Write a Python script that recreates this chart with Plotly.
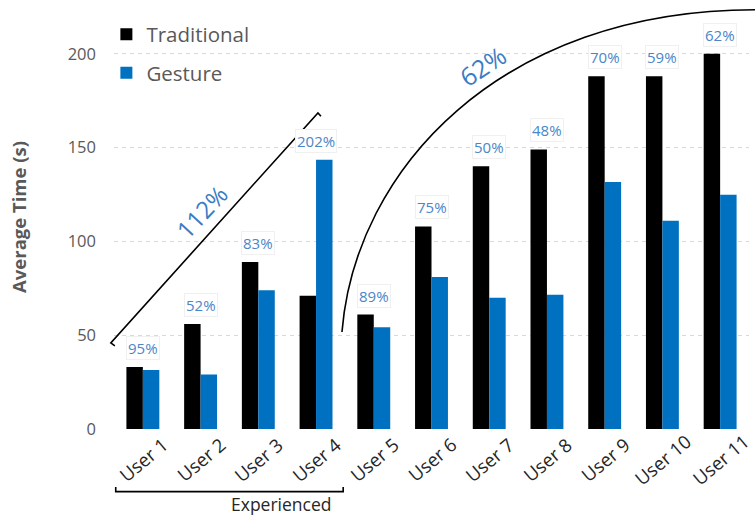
import plotly.graph_objects as go

# ---- data -------------------------------------------------------------
users = ["User 1", "User 2", "User 3", "User 4", "User 5", "User 6",
         "User 7", "User 8", "User 9", "User 10", "User 11"]
traditional = [33, 56, 89, 71, 61, 108, 140, 149, 188, 188, 200]
gesture = [31.4, 29, 74, 143.5, 54.3, 81, 70, 71.5, 131.6, 111, 124.8]
y_ticks = [0, 50, 100, 150, 200]

group_label = "Experienced"
experienced_span = (0, 3)          # User 1 .. User 4
experienced_change = "112%"
novice_change = "62%"

# ---- styling ----------------------------------------------------------
FONT = "Open Sans"
GREY = "#595959"
DARK = "#262626"
BLUE = "#0070C0"
LABEL_BLUE = "#4a86c8"

X_RANGE = (-0.5, 10.5)
Y_RANGE = (0, 226)


def xp(xd):
    """data x -> paper fraction"""
    return (xd - X_RANGE[0]) / (X_RANGE[1] - X_RANGE[0])


def yp(yd):
    """data y -> paper fraction"""
    return (yd - Y_RANGE[0]) / (Y_RANGE[1] - Y_RANGE[0])


fig = go.Figure()
fig.add_trace(go.Bar(x=users, y=traditional, name="Traditional",
                     marker=dict(color="#000000", line=dict(width=0)),
                     legendgroup="t"))
fig.add_trace(go.Bar(x=users, y=gesture, name="Gesture",
                     marker=dict(color=BLUE, line=dict(width=0)),
                     legendgroup="g"))

annotations = []

# ratio labels above each user's pair of bars
for i, (t, g) in enumerate(zip(traditional, gesture)):
    annotations.append(dict(
        x=i, y=max(t, g), xref="x", yref="y",
        text=f"{round(g / t * 100)}%", showarrow=False,
        yanchor="bottom", yshift=7,
        font=dict(family=FONT, size=15, color=LABEL_BLUE),
        bgcolor="white", bordercolor="#f0f0f0", borderwidth=1, borderpad=1,
    ))

# rotated category labels, centred under each group
for i, u in enumerate(users):
    annotations.append(dict(
        x=i, y=0, xref="x", yref="paper", text=u, showarrow=False,
        textangle=-40, xanchor="center", yanchor="middle", yshift=-30,
        font=dict(family=FONT, size=18.5, color=DARK),
    ))

# bracket under the experienced users
bx0, bx1 = experienced_span[0] - 0.47, experienced_span[1] + 0.47
by, btick = -33.4, -30.9
bracket = (f"M {xp(bx0)},{yp(btick)} L {xp(bx0)},{yp(by)} "
           f"L {xp(bx1)},{yp(by)} L {xp(bx1)},{yp(btick)}")
annotations.append(dict(
    x=xp((bx0 + bx1) / 2), y=yp(-40), xref="paper", yref="paper",
    text=group_label, showarrow=False, yanchor="middle",
    font=dict(family=FONT, size=17.5, color=DARK),
))

# slanted trend line over users 1-4
slant = [(-0.485, 44.3), (-0.555, 45.9), (3.033, 168.5), (3.085, 166.7)]
slant_path = "M " + " L ".join(f"{xp(a)},{yp(b)}" for a, b in slant)
annotations.append(dict(
    x=1.02, y=116, xref="x", yref="y", text=experienced_change,
    showarrow=False, textangle=-47,
    font=dict(family=FONT, size=24, color="#3a7cc4"),
))

# arc over users 5-11
arc = [(3.449, 51.7), (3.674, 138.1), (6.187, 223.5), (10.607, 223.5)]
arc_path = (f"M {xp(arc[0][0])},{yp(arc[0][1])} C "
            + " ".join(f"{xp(a)},{yp(b)}" for a, b in arc[1:]))
annotations.append(dict(
    x=5.88, y=193.5, xref="x", yref="y", text=novice_change,
    showarrow=False, textangle=-34,
    font=dict(family=FONT, size=25, color="#3a7cc4"),
))

shapes = [
    dict(type="path", xref="paper", yref="paper", path=p,
         line=dict(color="black", width=1.6))
    for p in (bracket, slant_path, arc_path)
]

fig.update_layout(
    width=755, height=518,
    margin=dict(l=114, r=6, t=5, b=89),
    paper_bgcolor="white", plot_bgcolor="white",
    barmode="group", bargap=0.43, bargroupgap=0,
    font=dict(family=FONT, color=GREY),
    legend=dict(x=-0.012, y=0.978, xanchor="left", yanchor="top",
                font=dict(family=FONT, size=20.5, color=GREY),
                tracegroupgap=9, bgcolor="rgba(0,0,0,0)"),
    annotations=annotations,
    shapes=shapes,
)
fig.update_xaxes(type="category", categoryarray=users, range=list(X_RANGE),
                 showticklabels=False, showgrid=False, zeroline=False,
                 showline=False, ticks="")
fig.update_yaxes(range=list(Y_RANGE), tickvals=y_ticks,
                 showgrid=True, gridcolor="#d9d9d9", griddash="4px,4px",
                 gridwidth=1, zeroline=False, showline=False, ticks="",
                 ticklabelstandoff=17,
                 tickfont=dict(family=FONT, size=16.5, color=GREY),
                 title=dict(text="<b>Average Time (s)</b>", standoff=36,
                            font=dict(family=FONT, size=18.5, color=GREY)))

fig.write_html("out.html")
